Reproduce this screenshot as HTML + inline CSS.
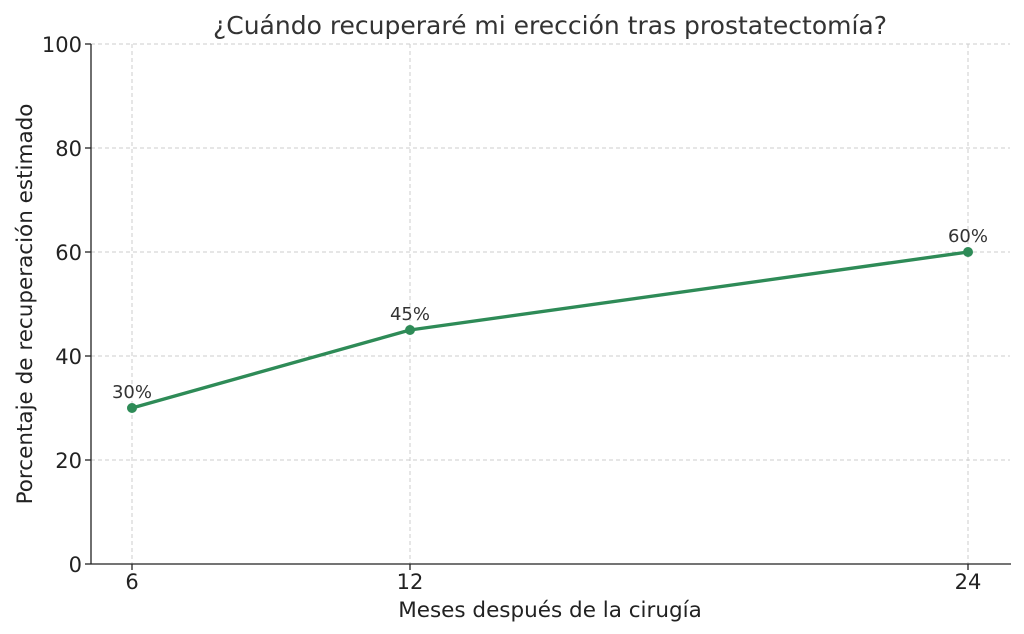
<!DOCTYPE html>
<html><head><meta charset="utf-8"><style>
html,body{margin:0;padding:0;background:#fff;}
svg{display:block;font-family:"DejaVu Sans","Liberation Sans",sans-serif;}
</style></head><body>
<svg width="1024" height="634" viewBox="0 0 1024 634" xmlns="http://www.w3.org/2000/svg">
<rect width="1024" height="634" fill="#fff"/>
<g stroke="#cccccc" stroke-width="1" stroke-dasharray="4,3">
<line x1="132" y1="44" x2="132" y2="564"/>
<line x1="410" y1="44" x2="410" y2="564"/>
<line x1="968" y1="44" x2="968" y2="564"/>
<line x1="91" y1="44" x2="1010" y2="44"/>
<line x1="91" y1="148" x2="1010" y2="148"/>
<line x1="91" y1="252" x2="1010" y2="252"/>
<line x1="91" y1="356" x2="1010" y2="356"/>
<line x1="91" y1="460" x2="1010" y2="460"/>
</g>
<g stroke="#222" stroke-width="1.3">
<line x1="91" y1="44" x2="91" y2="564"/>
<line x1="91" y1="564" x2="1011" y2="564"/>
<line x1="85" y1="44" x2="91" y2="44"/>
<line x1="85" y1="148" x2="91" y2="148"/>
<line x1="85" y1="252" x2="91" y2="252"/>
<line x1="85" y1="356" x2="91" y2="356"/>
<line x1="85" y1="460" x2="91" y2="460"/>
<line x1="85" y1="564" x2="91" y2="564"/>
<line x1="132" y1="564" x2="132" y2="570"/>
<line x1="410" y1="564" x2="410" y2="570"/>
<line x1="968" y1="564" x2="968" y2="570"/>
</g>
<g fill="#222" font-size="21" text-anchor="end">
<text x="82" y="52">100</text>
<text x="82" y="156">80</text>
<text x="82" y="260">60</text>
<text x="82" y="364">40</text>
<text x="82" y="468">20</text>
<text x="82" y="572">0</text>
</g>
<g fill="#222" font-size="21" text-anchor="middle">
<text x="132" y="589">6</text>
<text x="410" y="589">12</text>
<text x="968" y="589">24</text>
</g>
<text x="550" y="617" fill="#222" font-size="21.5" text-anchor="middle">Meses después de la cirugía</text>
<text transform="translate(32,304) rotate(-90)" fill="#222" font-size="21.5" text-anchor="middle">Porcentaje de recuperación estimado</text>
<text x="550" y="34" fill="#333" font-size="25" text-anchor="middle">¿Cuándo recuperaré mi erección tras prostatectomía?</text>
<polyline points="132,408 410,330 968,252" fill="none" stroke="#2e8b57" stroke-width="3.4" stroke-linejoin="round"/>
<g fill="#2e8b57">
<circle cx="132" cy="408" r="5"/>
<circle cx="410" cy="330" r="5"/>
<circle cx="968" cy="252" r="5"/>
</g>
<g fill="#333" font-size="18" text-anchor="middle">
<text x="132" y="398">30%</text>
<text x="410" y="320">45%</text>
<text x="968" y="242">60%</text>
</g>
</svg>
</body></html>
